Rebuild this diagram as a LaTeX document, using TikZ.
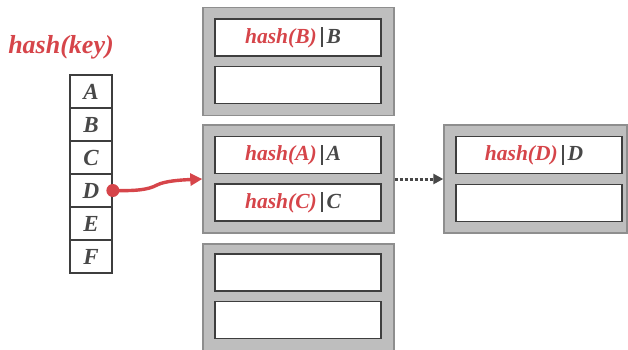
\documentclass[tikz,border=0pt]{standalone}
\usepackage{fontspec}
\setmainfont{Liberation Serif}
\usetikzlibrary{arrows.meta}
\definecolor{hred}{HTML}{D6454A}
\definecolor{dgray}{HTML}{484848}
\definecolor{bfill}{HTML}{BEBEBE}
\definecolor{bline}{HTML}{8E8E8E}
\definecolor{sline}{HTML}{3E3E3E}
% hash label of an entry: red hash(k), dark separator and key
\newcommand\hashentry[1]{{\color{hred}hash(#1)}\hspace{4pt}{\color{dgray}\raisebox{-4pt}{\rule{1.7pt}{20pt}}\hspace{4pt}#1}}
\tikzset{
  bucket/.style={draw=bline, fill=bfill, line width=1.4pt, inner sep=0pt,
    minimum height=108pt},
  slot/.style={draw=sline, fill=white, line width=1.9pt, inner sep=0pt,
    minimum width=166pt, minimum height=37pt},
  entry/.style={xshift=-5pt, font=\fontsize{21.5}{24}\selectfont\bfseries\itshape},
  cell/.style={draw=sline, fill=white, line width=1.7pt, inner sep=0pt,
    minimum width=42pt, minimum height=33pt, text=dgray,
    font=\fontsize{23}{25}\selectfont\bfseries\itshape},
}
\begin{document}
\begin{tikzpicture}[x=1pt, y=-1pt]
\useasboundingbox (0,0) rectangle (628,349);

% hash function label
\node[text=hred, font=\fontsize{26}{28}\selectfont\bfseries\itshape] (title) at (61,47) {hash(key)};

% hash table slots
\node[cell] (cA) at (91,91.5)  {A};
\node[cell] (cB) at (91,124.5) {B};
\node[cell] (cC) at (91,157.5) {C};
\node[cell] (cD) at (91,190.5) {D};
\node[cell] (cE) at (91,223.5) {E};
\node[cell] (cF) at (91,256.5) {F};

% buckets
\node[bucket, minimum width=191pt] (b1) at (298.5,61.5) {};
\node[slot] (b1s1) at (298,37.5) {};
\node[slot] (b1s2) at (298,85) {};
\node[entry] (t1) at (b1s1) {\hashentry{B}};

\node[bucket, minimum width=191pt] (b2) at (298.5,179) {};
\node[slot] (b2s1) at (298,155) {};
\node[slot] (b2s2) at (298,202.5) {};
\node[entry] (t2) at (b2s1) {\hashentry{A}};
\node[entry] (t3) at (b2s2) {\hashentry{C}};

\node[bucket, minimum width=191pt] (b3) at (298.5,298) {};
\node[slot] (b3s1) at (298,272.5) {};
\node[slot] (b3s2) at (298,320) {};

% overflow bucket
\node[bucket, minimum width=183pt] (b4) at (535.5,179) {};
\node[slot] (b4s1) at (539,155) {};
\node[slot] (b4s2) at (539,203) {};
\node[entry] (t4) at (b4s1) {\hashentry{D}};

% pointer from slot D to its bucket
\coordinate (dp) at (cD.east);
\draw[hred, line width=3.4pt, -{Triangle[length=12pt,width=12pt]}]
  (dp) .. controls (135,191) and (148,190) .. (157,185)
       .. controls (165,181) and (180,180) .. (b2.west);
\fill[hred] (dp) circle (6.5pt);

% overflow chain
\draw[dgray, line width=3pt, dotted, -{Triangle[length=10pt,width=10pt]}]
  (b2.east) -- (b4.west);
\end{tikzpicture}
\end{document}
